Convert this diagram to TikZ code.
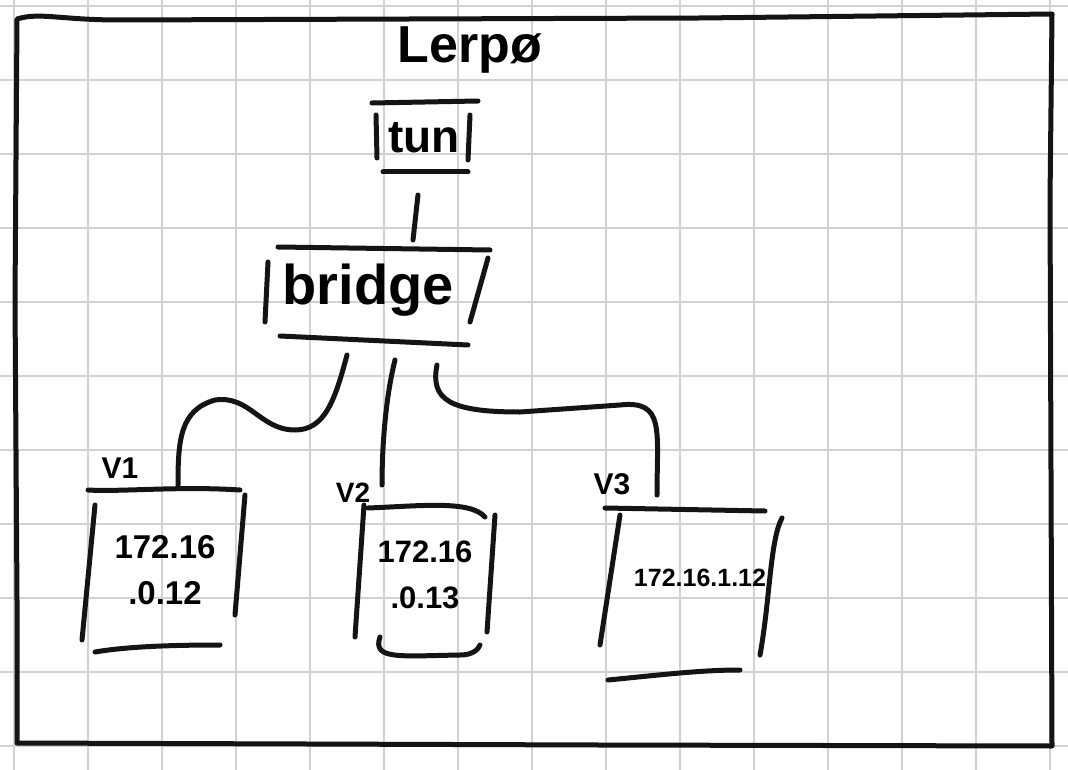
\documentclass[tikz,border=0pt]{standalone}
\usepackage{fontspec}
\setmainfont{Liberation Sans}
\begin{document}
\begin{tikzpicture}[x=1pt,y=-1pt,
  ink/.style={line width=5pt,line cap=round,line join=round,black!92},
  gridline/.style={line width=1.2pt,gray!35},
  lbl/.style={inner sep=0pt,font=\bfseries\fontsize{30}{32}\selectfont},
  ip/.style={inner sep=0pt,font=\bfseries\fontsize{33}{46}\selectfont,align=center}]
\useasboundingbox (0,0) rectangle (1068,770);
\fill[white] (0,0) rectangle (1068,770);
% grid
\foreach \gx in {14,88,...,1068} \draw[gridline] (\gx,0) -- (\gx,770);
\foreach \gy in {6,80,...,770} \draw[gridline] (0,\gy) -- (1068,\gy);
% outer frame
\draw[ink] (17,19) .. controls (40,12) and (60,20) .. (120,20) -- (700,18) -- (1052,14) -- (1050,200) -- (1052,746)
  -- (600,745) -- (17,743) -- (17,600) -- (15,300) -- cycle;
% title
\node[lbl,font=\bfseries\fontsize{52}{56}\selectfont] (title) at (470,50) {Lerpø};
% tun
\node[lbl,font=\bfseries\fontsize{46}{50}\selectfont] (tun) at (424,138) {tun};
\draw[ink] (372,103) -- (478,101);
\draw[ink] (376,115) -- (377,158);
\draw[ink] (470,115) -- (468,160);
\draw[ink] (383,172) -- (468,172);
\coordinate (tunb) at (418,195);
% bridge
\node[lbl,font=\bfseries\fontsize{56}{60}\selectfont] (bridge) at (368,290) {bridge};
\draw[ink] (278,247) -- (490,250);
\draw[ink] (268,262) -- (265,322);
\draw[ink] (488,258) -- (470,322);
\draw[ink] (280,336) -- (468,345);
\coordinate (bridget) at (413,240);
\coordinate (bl) at (347,355);
\coordinate (bm) at (395,360);
\coordinate (br) at (437,365);
\draw[ink] (tunb) -- (bridget);
% box 1
\node[lbl] (l1) at (120,468) {V1};
\draw[ink] (88,490) .. controls (120,492) and (180,486) .. (240,490);
\draw[ink] (95,505) -- (82,640);
\draw[ink] (245,495) -- (235,615);
\draw[ink] (95,652) .. controls (130,646) and (180,645) .. (220,645);
\node[ip] (ip1) at (165,570) {172.16\\.0.12};
\coordinate (t1) at (178,485);
% box 2
\node[lbl,font=\bfseries\fontsize{28}{30}\selectfont] (l2) at (353,493) {V2};
\draw[ink] (368,508) .. controls (420,506) and (470,500) .. (485,517);
\draw[ink] (364,505) -- (355,637);
\draw[ink] (495,515) -- (487,632);
\draw[ink] (380,637) .. controls (372,660) and (400,656) .. (460,655) .. controls (472,655) and (478,650) .. (480,645);
\node[ip,font=\bfseries\fontsize{31}{46}\selectfont] (ip2) at (425,575) {172.16\\.0.13};
\coordinate (t2) at (382,485);
% box 3
\node[lbl] (l3) at (612,484) {V3};
\draw[ink] (605,508) -- (765,511);
\draw[ink] (620,515) -- (600,645);
\draw[ink] (782,518) .. controls (770,540) and (770,600) .. (760,655);
\draw[ink] (608,680) .. controls (660,675) and (700,670) .. (740,670);
\node[ip,font=\bfseries\fontsize{25}{28}\selectfont] (ip3) at (700,578) {172.16.1.12};
\coordinate (t3) at (657,495);
% connectors
\draw[ink] (bl) .. controls (335,400) and (325,430) .. (295,430) .. controls (260,430) and (250,395) .. (215,400) .. controls (180,410) and (178,440) .. (t1);
\draw[ink] (bm) .. controls (385,400) and (382,450) .. (t2);
\draw[ink] (br) .. controls (430,400) and (450,412) .. (520,412) -- (620,405) .. controls (665,400) and (657,430) .. (t3);
\end{tikzpicture}
\end{document}
